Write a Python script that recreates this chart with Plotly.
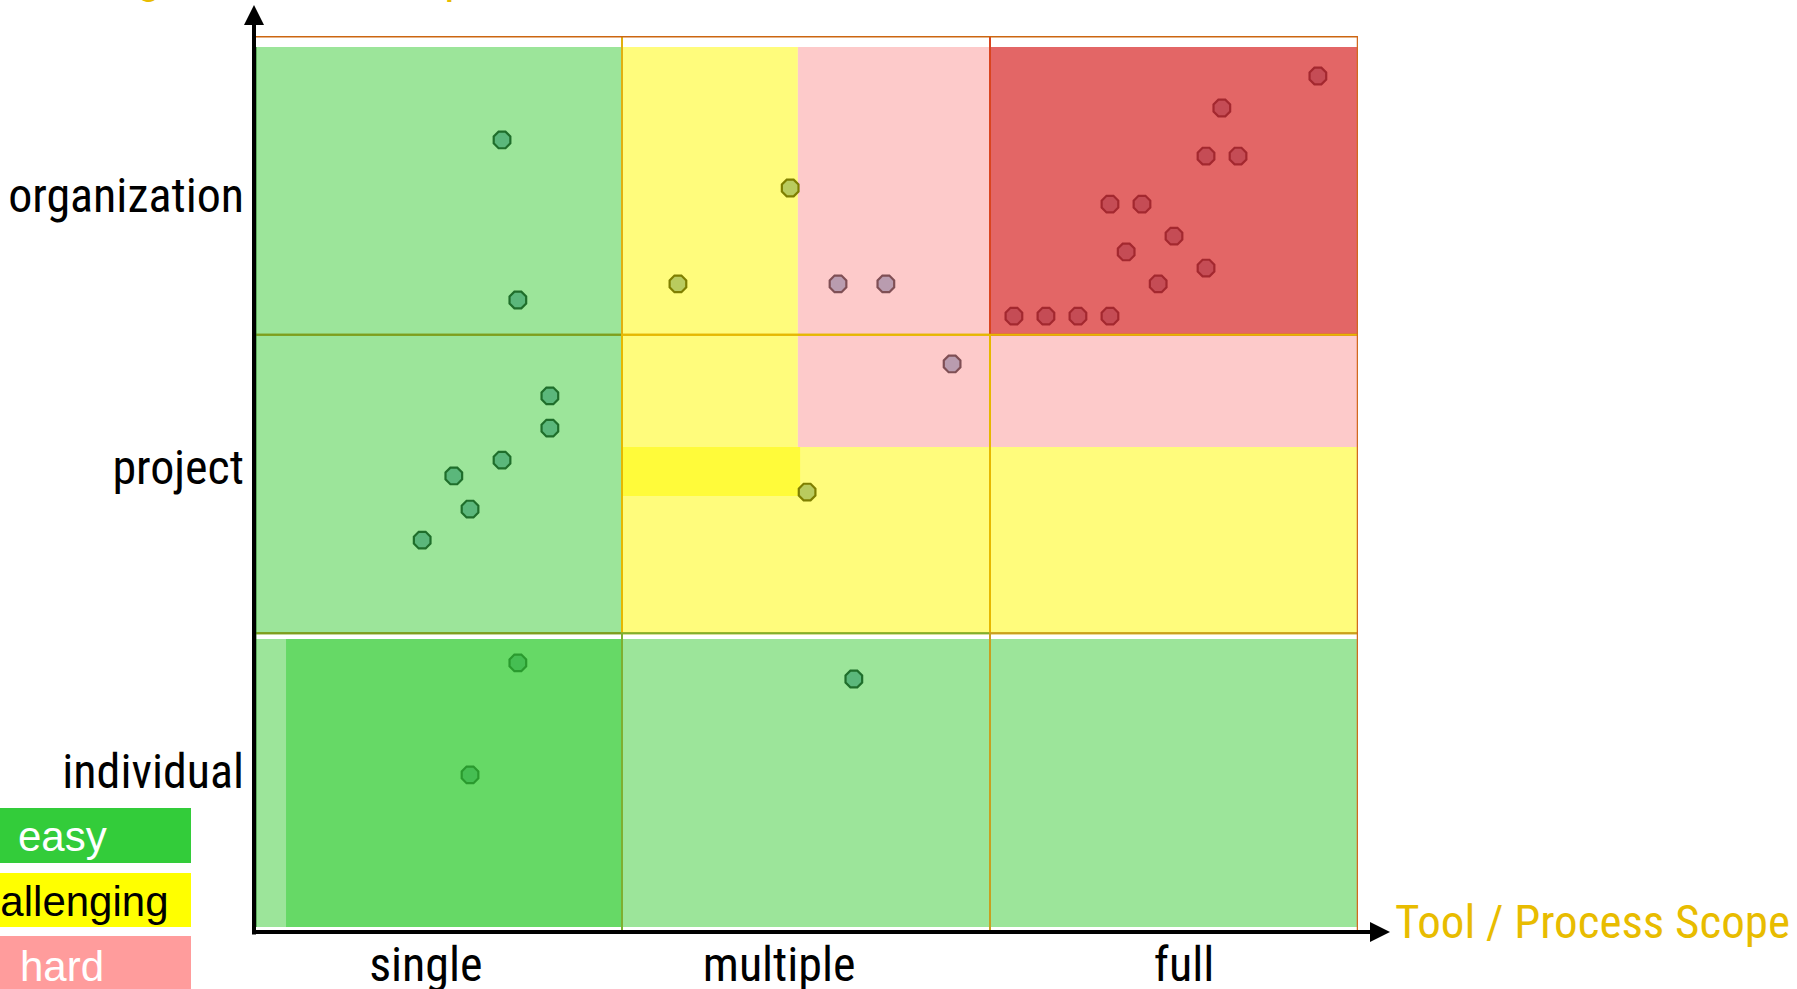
import plotly.graph_objects as go

# ---------------- data ----------------
x_categories = ["single", "multiple", "full"]
y_categories = ["individual", "project", "organization"]
x_title = "Tool / Process Scope"
y_title = "Organizational Scope"
legend_labels = ["easy", "challenging", "hard"]

# difficulty zones in axis units: (x0, x1, y0, y1, level)
zones = [
    (0.0, 1.0, 2.0, 2.963, "easy"),
    (1.0, 1.478, 2.0, 2.963, "challenging"),
    (1.478, 2.0, 2.0, 2.963, "hard"),
    (2.0, 3.0, 2.0, 2.963, "very hard"),
    (0.0, 1.0, 1.0, 2.0, "easy"),
    (1.0, 1.478, 1.624, 2.0, "challenging"),
    (1.478, 2.0, 1.624, 2.0, "hard"),
    (2.0, 3.0, 1.624, 2.0, "hard"),
    (1.0, 2.0, 1.0, 1.624, "challenging"),
    (2.0, 3.0, 1.0, 1.624, "challenging"),
    (1.0, 1.484, 1.46, 1.624, "challenging strong"),
    (0.0, 1.0, 0.017, 0.981, "easy"),
    (0.087, 1.0, 0.017, 0.981, "easy strong"),
    (1.0, 2.0, 0.017, 0.981, "easy"),
    (2.0, 3.0, 0.017, 0.981, "easy"),
]

# points (x: tool/process scope, y: organizational scope)
green_x = [0.674, 0.717, 0.804, 0.804, 0.674, 0.543, 0.587, 0.457, 1.630]
green_y = [2.652, 2.116, 1.795, 1.687, 1.580, 1.527, 1.416, 1.312, 0.847]
bright_x = [0.717, 0.587]
bright_y = [0.901, 0.526]
yellow_x = [1.457, 1.152, 1.503]
yellow_y = [2.491, 2.170, 1.473]
mauve_x = [1.587, 1.717, 1.897]
mauve_y = [2.170, 2.170, 1.902]
red_x = [2.891, 2.630, 2.587, 2.674, 2.326, 2.413, 2.500, 2.370, 2.587, 2.457,
         2.065, 2.152, 2.239, 2.326]
red_y = [2.866, 2.759, 2.598, 2.598, 2.437, 2.437, 2.330, 2.277, 2.223, 2.170,
         2.062, 2.062, 2.062, 2.062]

# ---------------- styling ----------------
W, H = 1797, 989
L, R, T, B = 254, 439, 36, 57
PW, PH = W - L - R, H - T - B

def pxx(px):
    return (px - L) / PW

def pxy(py):
    return (H - B - py) / PH

zone_colors = {
    "easy": "#9CE59A",
    "easy strong": "#66D966",
    "challenging": "#FFFC7C",
    "challenging strong": "#FFFB3A",
    "hard": "#FDCACA",
    "very hard": "#E36666",
}
NARROW = "Liberation Sans Narrow, Arial Narrow, Roboto Condensed, sans-serif"
YELLOW = "#E8BC00"

fig = go.Figure()

def add_points(xs, ys, fill, line):
    fig.add_trace(go.Scatter(
        x=xs, y=ys, mode="markers", showlegend=False, hoverinfo="skip",
        marker=dict(symbol="octagon", size=18, color=fill,
                    line=dict(color=line, width=2.2)),
    ))

add_points(green_x, green_y, "#5BB77B", "#1F6E2B")
add_points(bright_x, bright_y, "#45BE52", "#2A9A2E")
add_points(yellow_x, yellow_y, "#B9CB5E", "#7F7F00")
add_points(mauve_x, mauve_y, "#B99CAF", "#7F4F55")
add_points(red_x, red_y, "#C54C55", "#A3282F")

shapes = []
for x0, x1, y0, y1, lvl in zones:
    shapes.append(dict(type="rect", xref="x", yref="y", x0=x0, x1=x1, y0=y0, y1=y1,
                       fillcolor=zone_colors[lvl], line=dict(width=0), layer="below"))

# cell outlines
cell_lines = {
    (0, 2): "#7E9E1E", (0, 1): "#7E9E1E", (0, 0): "#7E9E1E",
    (1, 2): "#E0B010", (1, 1): "#E6B800", (1, 0): "#7EB030",
    (2, 2): "#D9441F", (2, 1): "#E6B800", (2, 0): "#C8A020",
}
for (cx, cy), col in cell_lines.items():
    shapes.append(dict(type="rect", xref="x", yref="y", x0=cx, x1=cx + 1, y0=cy, y1=cy + 1,
                       fillcolor="rgba(0,0,0,0)", line=dict(color=col, width=2), layer="below"))
# top / right frame
shapes.append(dict(type="line", xref="x", yref="y", x0=0, x1=3, y0=3, y1=3,
                   line=dict(color="#CC6610", width=3), layer="below"))
shapes.append(dict(type="line", xref="x", yref="y", x0=3, x1=3, y0=0, y1=3,
                   line=dict(color="#D2691E", width=2.5), layer="below"))
# dark green inner edge of y axis
shapes.append(dict(type="line", xref="x", yref="y", x0=0.004, x1=0.004, y0=0.017, y1=2.963,
                   line=dict(color="#1E6E1E", width=2), layer="below"))

# legend boxes
legend_colors = ["#33CC3A", "#FFFF00", "#FF9C9C"]
legend_text_colors = ["white", "black", "white"]
legend_rows = [(808, 863), (873, 927), (936, 995)]
annotations = []
for lab, col, tcol, (t0, t1) in zip(legend_labels, legend_colors, legend_text_colors, legend_rows):
    shapes.append(dict(type="rect", xref="paper", yref="paper",
                       x0=pxx(-67), x1=pxx(191), y0=pxy(t1), y1=pxy(t0),
                       fillcolor=col, line=dict(width=0), layer="above"))
    annotations.append(dict(xref="paper", yref="paper", x=pxx(62), y=pxy((t0 + t1) / 2 + 1),
                            text=lab, showarrow=False, xanchor="center", yanchor="middle",
                            font=dict(family="Liberation Sans, Arial, sans-serif", size=42, color=tcol)))

# axis arrows
annotations.append(dict(xref="paper", yref="paper", x=pxx(254), y=pxy(5), ax=0, ay=932 - 5 + 4,
                        axref="pixel", ayref="pixel", text="", showarrow=True,
                        arrowhead=2, arrowsize=1, arrowwidth=4, arrowcolor="black", standoff=0))
annotations.append(dict(xref="paper", yref="paper", x=pxx(1390), y=pxy(932), ax=-(1390 - 252), ay=0,
                        axref="pixel", ayref="pixel", text="", showarrow=True,
                        arrowhead=2, arrowsize=1, arrowwidth=4, arrowcolor="black", standoff=0))

# axis titles
annotations.append(dict(xref="paper", yref="paper", x=pxx(1393), y=pxy(921), text=x_title,
                        showarrow=False, xanchor="left", yanchor="middle",
                        font=dict(family=NARROW, size=47, color=YELLOW)))
annotations.append(dict(xref="paper", yref="paper", x=pxx(93), y=pxy(6), text=y_title,
                        showarrow=False, xanchor="left", yanchor="bottom",
                        font=dict(family=NARROW, size=47, color=YELLOW)))

fig.update_layout(
    width=W, height=H,
    margin=dict(l=L, r=R, t=T, b=B, pad=0, autoexpand=False),
    paper_bgcolor="white", plot_bgcolor="white",
    shapes=shapes, annotations=annotations,
    xaxis=dict(range=[0, 3], showgrid=False, zeroline=False, showline=False, automargin=False,
               tickmode="array", tickvals=[0.467, 1.427, 2.527], ticktext=x_categories,
               ticks="", ticklabelstandoff=0,
               tickfont=dict(family=NARROW, size=48, color="black"), fixedrange=True),
    yaxis=dict(range=[0, 3], showgrid=False, zeroline=False, showline=False, automargin=False,
               tickmode="array", tickvals=[0.54, 1.557, 2.467], ticktext=y_categories,
               ticks="", ticklabelstandoff=9,
               tickfont=dict(family=NARROW, size=48, color="black"), fixedrange=True),
)

fig.write_html("out.html", config={"displayModeBar": False},
               post_script="document.body.style.margin='0';")
